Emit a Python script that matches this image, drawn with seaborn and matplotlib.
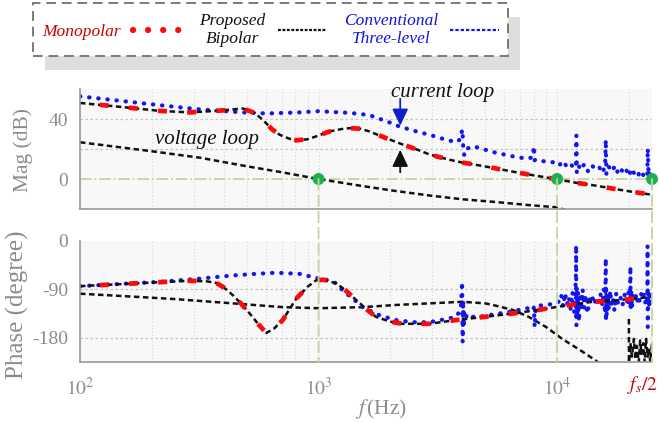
import matplotlib.pyplot as plt
import numpy as np
import seaborn as sns
from matplotlib.lines import Line2D
from matplotlib.patches import ConnectionPatch
from matplotlib.ticker import LogLocator, NullFormatter

# --- magnitude (dB) ---
# current loop, proposed bipolar (monopolar overlaps it)
cur_mag_freq = [100, 150, 216, 289, 380, 482, 540, 585, 640, 687, 750, 807, 900, 977,
                1112, 1250, 1350, 1500, 1634, 1900, 2253, 2600, 2913, 3500, 4000, 4866,
                6000, 7000, 8150, 9860, 12000, 14490, 18000, 21000, 25000]
bipolar_mag = [50.7, 48.0, 45.4, 44.4, 45.5, 47.0, 44.0, 39.3, 33.0, 29.5, 27.0, 25.8, 26.5, 28.4,
               31.7, 33.3, 33.9, 33.5, 31.7, 27.5, 23.0, 19.5, 16.4, 13.0, 11.0, 8.7,
               6.0, 4.0, 2.2, 0.0, -2.5, -4.4, -7.0, -8.7, -10.5]
monopolar_mag = bipolar_mag

# current loop, conventional three-level
conv_mag_freq = [100, 150, 216, 318, 482, 605, 830, 1000, 1112, 1350, 1634, 2000, 2183, 2600,
                 2913, 3420, 3800, 3950, 4000, 4020, 4040, 4080, 4150, 4460, 5535, 6620,
                 7500, 7900, 8000, 8050, 8150, 8600, 9200, 9860,
                 10200, 10600, 11000, 11400, 11800, 12000, 12050, 12100, 12300, 12600,
                 13000, 13500, 14000, 14500, 15000, 15500, 15900, 16000, 16100, 16500,
                 17000, 17500, 18000, 18500, 19000, 19500, 20000, 20500, 21000, 21500,
                 22000, 22500, 23000, 23500, 23900, 24000, 24200, 24500, 25000]
conv_mag = [55.1, 52.0, 49.2, 46.4, 44.4, 43.7, 44.4, 45.2, 44.8, 44.1, 42.6, 37.5, 35.0, 31.5,
            29.5, 26.2, 24.5, 27.0, 33.0, 29.0, 22.0, 16.0, 20.0, 21.8, 17.5, 14.9,
            13.5, 14.5, 21.8, 12.5, 13.1, 12.0, 11.5, 11.0,
            9.0, 12.0, 8.0, 10.0, 7.0, 10.0, 29.0, 4.4, 9.0, 6.0,
            10.0, 5.0, 9.0, 6.5, 8.0, 4.0, 9.0, 26.2, 3.0, 8.0,
            5.0, 9.0, 4.0, 7.0, 3.5, 6.0, 2.0, 7.0, 4.0, 6.0,
            3.0, 5.5, 2.5, 5.0, 3.0, 20.3, 2.0, 6.0, 0.0]

# voltage loop
volt_mag_freq = [100, 200, 318, 500, 700, 1000, 1500, 2000, 2913, 4000, 5500, 7500, 9860, 10800]
volt_mag = [24.5, 18.5, 14.2, 8.5, 4.5, 0.0, -4.5, -7.5, -11.0, -13.5, -15.3, -17.3, -18.8, -20.5]

# --- phase (degree) ---
cur_ph_freq = [100, 167, 230, 289, 340, 373, 400, 438, 470, 515, 560, 604, 650, 708, 760, 807,
               900, 977, 1050, 1190, 1300, 1440, 1600, 1740, 2000, 2250, 2913, 3770, 4980,
               6500, 8400, 10500, 14100, 18100, 23600, 25000]
bipolar_ph = [-84, -79, -76, -74, -75, -78, -86, -101, -115, -135, -155, -171, -163, -147, -125,
              -107, -85, -73, -72, -79, -92, -110, -128, -141, -150, -154, -154, -147, -141,
              -135, -128, -121, -113, -110, -105, -104]
monopolar_ph = bipolar_ph

conv_ph_freq = [100, 160, 216, 318, 438, 550, 662, 830, 1010, 1112, 1200, 1260, 1400, 1530,
                1800, 2105, 2500, 2913, 3530, 3800, 3950, 4000, 4020, 4040, 4060, 4100, 4200,
                4400, 4700, 5500, 6270, 7500, 7900, 8000, 8050, 8150, 8500, 9200, 9860,
                10200, 10400, 10600, 10800, 11000, 11200, 11400, 11600, 11800, 11900,
                12000, 12020, 12050, 12080, 12150, 12250, 12350, 12500, 12650, 12800,
                13000, 13200, 13400, 13700, 14000, 14300, 14600, 14900, 15200, 15500,
                15700, 15900, 16000, 16030, 16070, 16150, 16300, 16500, 16700, 16900,
                17100, 17400, 17700, 18000, 18400, 18800, 19200, 19600, 19900, 20100,
                20250, 20300, 20350, 20450, 20600, 20800, 21000, 21300, 21600, 21900,
                22200, 22500, 22800, 23100, 23400, 23700, 23900, 23950, 24000, 24100,
                24300, 24500, 24700, 25000]
conv_ph = [-84, -79, -76, -70, -64, -61, -59, -61, -70, -73, -80, -92, -108, -123,
           -138, -147, -151, -151, -144, -140, -125, -76, -188, -110, -160, -130, -145,
           -141, -141, -136, -132, -125, -130, -123, -160, -123, -120, -118, -117,
           -112, -100, -122, -97, -118, -104, -126, -95, -132, -108,
           -60, -8, -157, -85, -140, -95, -150, -105, -130, -90,
           -125, -100, -135, -110, -100, -118, -105, -113, -98, -120,
           -90, -135, -32, -150, -88, -140, -100, -128, -92, -118,
           -105, -130, -98, -115, -103, -120, -100, -114, -96, -120,
           -80, -47, -130, -92, -125, -100, -110, -96, -115, -102,
           -112, -98, -108, -100, -115, -102, -110, -9, -160, -95,
           -125, -100, -115, -110]

volt_ph_freq = [100, 160, 250, 438, 708, 1000, 1530, 2100, 2913, 4000, 5000, 5500, 6500,
                7600, 9000, 10500, 12500, 14500, 15500]
volt_ph = [-98, -103, -108, -116, -123, -125, -123, -119, -116, -113, -116, -120, -128,
           -141, -160, -182, -203, -222, -232]
volt_ph_tail_freq = [20000, 20010, 20300, 20600, 21000, 21300, 21600, 22000, 22300, 22600,
                     23000, 23300, 23600, 24000, 24300, 24600, 25000]
volt_ph_tail = [-145, -226, -190, -215, -182, -220, -195, -226, -185, -210, -190, -226,
                -182, -215, -200, -226, -190]

crossover_freq = [1000, 10000, 25000]
crossover_mag = [0, 0, 0]

x_ticks = [100, 1000, 10000, 25000]
x_ticklabels = ["$10^2$", "$10^3$", "$10^4$", ""]
mag_ticks = list(range(-20, 61, 10))
mag_ticklabels = ["", "", "0", "", "", "", "40", "", ""]
ph_ticks = list(range(-225, 1, 45))
ph_ticklabels = ["", "-180", "", "-90", "", "0"]

RED = "#ff0a0a"
BLUE = "#1414f0"
BLACK = "#111111"
GRAY = "#8c8c8c"
OLIVE = "#c3d59c"

sns.set_theme(style="white")
plt.rcParams["font.family"] = ["Liberation Serif", "DejaVu Serif"]
plt.rcParams["mathtext.fontset"] = "stix"
plt.rcParams["axes.unicode_minus"] = False


def draw_curves(ax, volt, conv, bip, mono):
    blk = dict(color=BLACK, lw=1.8, linestyle=(0, (2.2, 1.4)), estimator=None, sort=False)
    sns.lineplot(x=volt[0], y=volt[1], ax=ax, **blk)
    sns.lineplot(x=conv[0], y=conv[1], ax=ax, color=BLUE, lw=3.0,
                 linestyle=(0, (0.1, 2.1)), dash_capstyle="round", estimator=None, sort=False)
    sns.lineplot(x=bip[0], y=bip[1], ax=ax, **blk)
    sns.lineplot(x=mono[0], y=mono[1], ax=ax, color=RED, lw=3.4,
                 linestyle=(2, (1.9, 4.3)), estimator=None, sort=False)


def style_axis(ax, yticks, yticklabels, ylim):
    ax.set_facecolor("#f8f8f8")
    ax.set_xscale("log")
    ax.set_xlim(100, 25000)
    ax.set_ylim(*ylim)
    ax.set_xticks(x_ticks)
    ax.xaxis.set_minor_locator(LogLocator(base=10, subs=np.arange(2, 10)))
    ax.xaxis.set_minor_formatter(NullFormatter())
    ax.set_yticks(yticks)
    ax.set_yticklabels(yticklabels)
    ax.grid(axis="x", which="both", color="#dadada", ls=":", lw=0.9)
    ax.grid(axis="y", visible=False)
    ax.set_axisbelow(True)
    for side in ["top", "right"]:
        ax.spines[side].set_visible(False)
    for side in ["left", "bottom"]:
        ax.spines[side].set_color("#9a9a9a")
        ax.spines[side].set_linewidth(1.2)
    ax.tick_params(which="both", direction="out", colors=GRAY, labelsize=14, width=1)
    ax.tick_params(which="major", length=5)
    ax.tick_params(which="minor", length=3.5)
    ax.set_xlabel("")
    ax.set_ylabel("")


fig = plt.figure(figsize=(6.59, 4.22), dpi=100)
ax1 = fig.add_axes([80 / 659, 1 - 209 / 422, 572 / 659, 120 / 422])
ax2 = fig.add_axes([80 / 659, 1 - 362 / 422, 572 / 659, 121 / 422])

style_axis(ax1, mag_ticks, mag_ticklabels, (-19.5, 60))
style_axis(ax2, ph_ticks, ph_ticklabels, (-225, 0))
ax1.set_xticklabels(["", "", "", ""])
ax2.set_xticklabels(x_ticklabels)
ax2.tick_params(axis="x", which="major", pad=6)
# fs/2 label at the right end of the frequency axis
ax2.annotate("$f_s/2$", xy=(25000, 0), xycoords=("data", "axes fraction"),
             xytext=(6, -12), textcoords="offset pixels", ha="right", va="top",
             fontsize=14, color="#c00000", annotation_clip=False)

for v in [20, 40]:
    ax1.axhline(v, color="#c4c4c4", ls=(0, (2, 2)), lw=0.9, zorder=0.8)
for v in [-90, -180]:
    ax2.axhline(v, color="#c4c4c4", ls=(0, (2, 2)), lw=0.9, zorder=0.8)
ax1.axhline(0, color=OLIVE, ls="-.", lw=1.3, zorder=0.9)

for f in crossover_freq:
    con = ConnectionPatch(xyA=(f, 0), coordsA=ax1.transData, xyB=(f, -225), coordsB=ax2.transData,
                          color=OLIVE, lw=1.3, ls=(0, (6, 3)), zorder=0.9)
    fig.add_artist(con)

draw_curves(ax1, (volt_mag_freq, volt_mag), (conv_mag_freq, conv_mag),
            (cur_mag_freq, bipolar_mag), (cur_mag_freq, monopolar_mag))
draw_curves(ax2, (volt_ph_freq, volt_ph), (conv_ph_freq, conv_ph),
            (cur_ph_freq, bipolar_ph), (cur_ph_freq, monopolar_ph))
sns.lineplot(x=volt_ph_tail_freq, y=volt_ph_tail, ax=ax2, color=BLACK, lw=1.8,
             linestyle=(0, (2.2, 1.4)), estimator=None, sort=False)

sns.scatterplot(x=crossover_freq, y=crossover_mag, ax=ax1, color="#1eb04f", s=75,
                edgecolor="none", zorder=6, clip_on=False)

# annotations
ax1.text(340, 26.5, "voltage loop", style="italic", fontsize=15, ha="center", va="center",
         color=BLACK)
ax1.text(3300, 57.5, "current loop", style="italic", fontsize=15, ha="center", va="center",
         color=BLACK)
ax1.annotate("", xy=(2200, 35.5), xytext=(2200, 53.5),
             arrowprops=dict(arrowstyle="-|>,head_length=0.85,head_width=0.4",
                             color="#1020c8", lw=1.3, shrinkA=0, shrinkB=0))
ax1.annotate("", xy=(2200, 19.5), xytext=(2200, 4.5),
             arrowprops=dict(arrowstyle="-|>,head_length=0.85,head_width=0.4",
                             color=BLACK, lw=1.3, shrinkA=0, shrinkB=0))

ax1.set_ylabel("Mag (dB)", fontsize=15.5, color=GRAY)
ax1.yaxis.set_label_coords(-0.083, 0.49)
ax2.set_ylabel("Phase (degree)", fontsize=18, color=GRAY)
ax2.yaxis.set_label_coords(-0.09, 0.47)
ax2.set_xlabel("$f\\,$(Hz)", fontsize=15.5, color=GRAY)
ax2.xaxis.set_label_coords((381 - 80) / 572, -0.29)

# legend
handles = [
    Line2D([], [], color=RED, lw=4.5, ls=(0, (0.01, 2.4)), dash_capstyle="round"),
    Line2D([], [], color=BLACK, lw=1.6, ls=(0, (1.3, 0.7))),
    Line2D([], [], color=BLUE, lw=1.6, ls=(0, (1.5, 0.9))),
]
labels = ["Monopolar", "Proposed\nBipolar", "Conventional\nThree-level"]
leg = fig.legend(handles, labels, loc="upper left", bbox_to_anchor=(33 / 659, 1 - 3 / 422),
                 ncol=3, markerfirst=False, fancybox=False, framealpha=1, edgecolor="#7a7a7a",
                 prop={"style": "italic", "size": 12.5}, handlelength=2.8, handletextpad=0.7,
                 columnspacing=1.0, borderpad=0.55, labelspacing=0.2, borderaxespad=0,
                 shadow={"ox": 8.6, "oy": -10, "facecolor": "#dedede", "edgecolor": "none",
                         "alpha": 1})
leg.get_frame().set_linestyle((0, (5, 3)))
leg.get_frame().set_linewidth(1.4)
for txt, col in zip(leg.get_texts(), ["#c80000", BLACK, "#1414d8"]):
    txt.set_color(col)
    txt.set_multialignment("center")

fig.savefig("out.png", dpi=100)
